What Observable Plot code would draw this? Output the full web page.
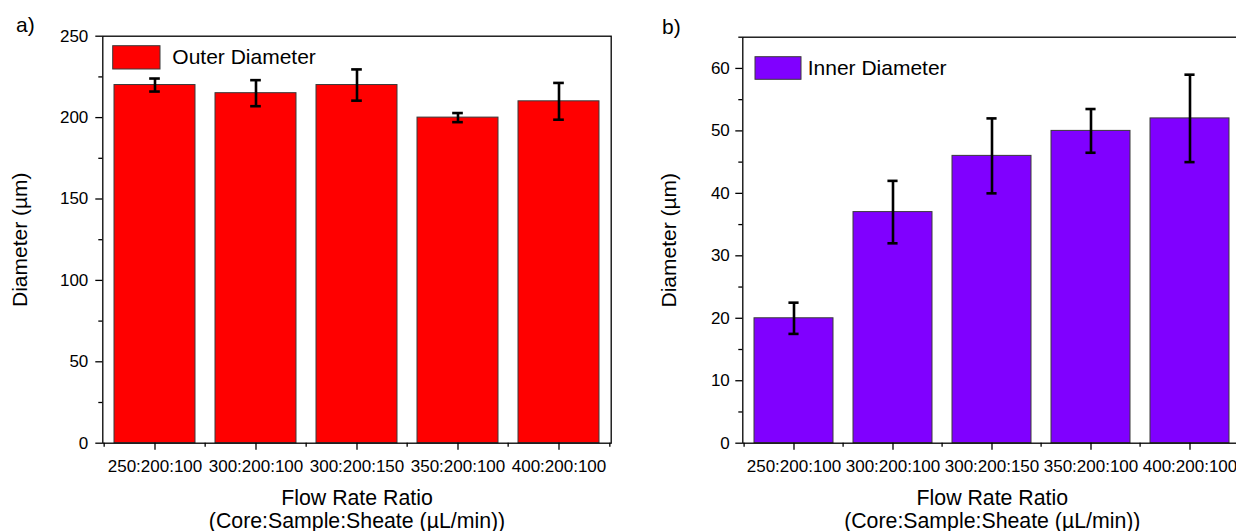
<!DOCTYPE html>
<html><head><meta charset="utf-8">
<script src="https://cdn.jsdelivr.net/npm/d3@7"></script>
<script src="https://cdn.jsdelivr.net/npm/@observablehq/plot@0.6"></script>
<style>
body{margin:0;background:#fff;}
#wrap{position:relative;width:1236px;height:531px;overflow:hidden;background:#fff;font-family:"Liberation Sans",Arial,sans-serif;}
.panel{position:absolute;top:0;}
.panel svg{max-width:none !important;}
#overlay{position:absolute;left:0;top:0;pointer-events:none;}
</style></head><body>
<div id="wrap"><div class="panel" id="pa" style="left:0px;width:630px"></div><div class="panel" id="pb" style="left:630px;width:620px"></div><svg id="overlay" width="1236" height="531"></svg></div>
<script>
const categories = ["250:200:100","300:200:100","300:200:150","350:200:100","400:200:100"];
const outerDiameter = [220, 215, 220, 200, 210];
const outerError = [4, 8, 9.6, 2.8, 11.3];
const innerDiameter = [20, 37, 46, 50, 52];
const innerError = [2.5, 5, 6, 3.5, 7];
const outerTicks = [0, 50, 100, 150, 200, 250];
const outerMinorTicks = [25, 75, 125, 175, 225];
const innerTicks = [0, 10, 20, 30, 40, 50, 60];
const innerMinorTicks = [5, 15, 25, 35, 45, 55, 65];
const yLabel = "Diameter (µm)";
const xLabelLines = ["Flow Rate Ratio", "(Core:Sample:Sheate (µL/min))"];
const legendA = "Outer Diameter";
const legendB = "Inner Diameter";

const FONT = "Liberation Sans, Arial, sans-serif";

function panel(o) {
  const rows = categories.map((c, i) => ({cat: c, value: o.values[i], lo: o.values[i] - o.errors[i], hi: o.values[i] + o.errors[i]}));
  const step = (o.width - o.mL - o.mR) / 5;
  const bw = 0.8 * step;
  const capInset = (bw - 11) / 2;
  return Plot.plot({
    width: o.width, height: 531,
    marginLeft: o.mL, marginRight: o.mR, marginTop: o.mT, marginBottom: o.mB,
    style: {fontFamily: FONT, fontSize: "17px", color: "black", background: "transparent", overflow: "visible", maxWidth: "none"},
    x: {type: "band", domain: categories, paddingInner: 0.2, paddingOuter: 0.1, axis: null},
    y: {domain: o.yDomain, axis: null},
    marks: [
      Plot.barY(rows, {x: "cat", y: "value", fill: o.fill, stroke: "#3a3a3a", strokeWidth: 1}),
      Plot.frame({stroke: "black", strokeWidth: 1.3}),
      Plot.ruleX(rows, {x: "cat", y1: "lo", y2: "hi", stroke: "black", strokeWidth: 2.6}),
      Plot.tickY(rows, {x: "cat", y: "hi", stroke: "black", strokeWidth: 2.6, insetLeft: capInset, insetRight: capInset}),
      Plot.tickY(rows, {x: "cat", y: "lo", stroke: "black", strokeWidth: 2.6, insetLeft: capInset, insetRight: capInset}),
      Plot.axisY(o.ticks, {tickSize: 7, tickPadding: o.yPad, fontSize: 17, label: null, strokeWidth: 1.3}),
      Plot.axisY(o.minor, {tickSize: 4, tickFormat: () => "", label: null, strokeWidth: 1.3}),
      Plot.axisX(categories, {tickSize: 7, tickPadding: 10, fontSize: 17, label: null, strokeWidth: 1.3}),
      Plot.axisX(categories, {tickSize: 4, dx: -step / 2, tickFormat: () => "", label: null, strokeWidth: 1.3}),
      Plot.axisX(categories.slice(-1), {tickSize: 4, dx: step / 2, tickFormat: () => "", label: null, strokeWidth: 1.3}),
      Plot.text([yLabel], {frameAnchor: "left", textAnchor: "middle", rotate: -90, dx: o.yLabelX - o.mL, fontSize: 21, fill: "black"}),
      Plot.text([xLabelLines.join("\n")], {frameAnchor: "bottom", textAnchor: "middle", lineAnchor: "top", dy: 46.4, lineHeight: 1.05, fontSize: 21.3, fill: "black"})
    ]
  });
}

document.getElementById("pa").append(panel({
  values: outerDiameter, errors: outerError, fill: "#ff0000", yDomain: [0, 250],
  ticks: outerTicks, minor: outerMinorTicks,
  width: 630, mL: 102.3, mR: 19.3, mT: 35.7, mB: 88.3, yPad: 7.5, yLabelX: 20
}));
document.getElementById("pb").append(panel({
  values: innerDiameter, errors: innerError, fill: "#8000ff", yDomain: [0, 65],
  ticks: innerTicks, minor: innerMinorTicks,
  width: 620, mL: 112.3, mR: 8.7, mT: 36.7, mB: 88.3, yPad: 6, yLabelX: 39
}));

// legends and panel labels
const ov = d3.select("#overlay");
function legend(x, y, w, h, fill, label, tx, ty) {
  ov.append("rect").attr("x", x).attr("y", y).attr("width", w).attr("height", h)
    .attr("fill", fill).attr("stroke", "#3a3a3a").attr("stroke-width", 1);
  ov.append("text").attr("x", tx).attr("y", ty).attr("font-family", FONT).attr("font-size", 21)
    .attr("fill", "black").text(label);
}
legend(112.7, 45.7, 47.3, 23.3, "#ff0000", legendA, 172.3, 64.3);
legend(755, 56.7, 46, 22.6, "#8000ff", legendB, 807.7, 75);
ov.append("text").attr("x", 16).attr("y", 32).attr("font-family", FONT).attr("font-size", 21).text("a)");
ov.append("text").attr("x", 662).attr("y", 34).attr("font-family", FONT).attr("font-size", 21).text("b)");
</script>
</body></html>
